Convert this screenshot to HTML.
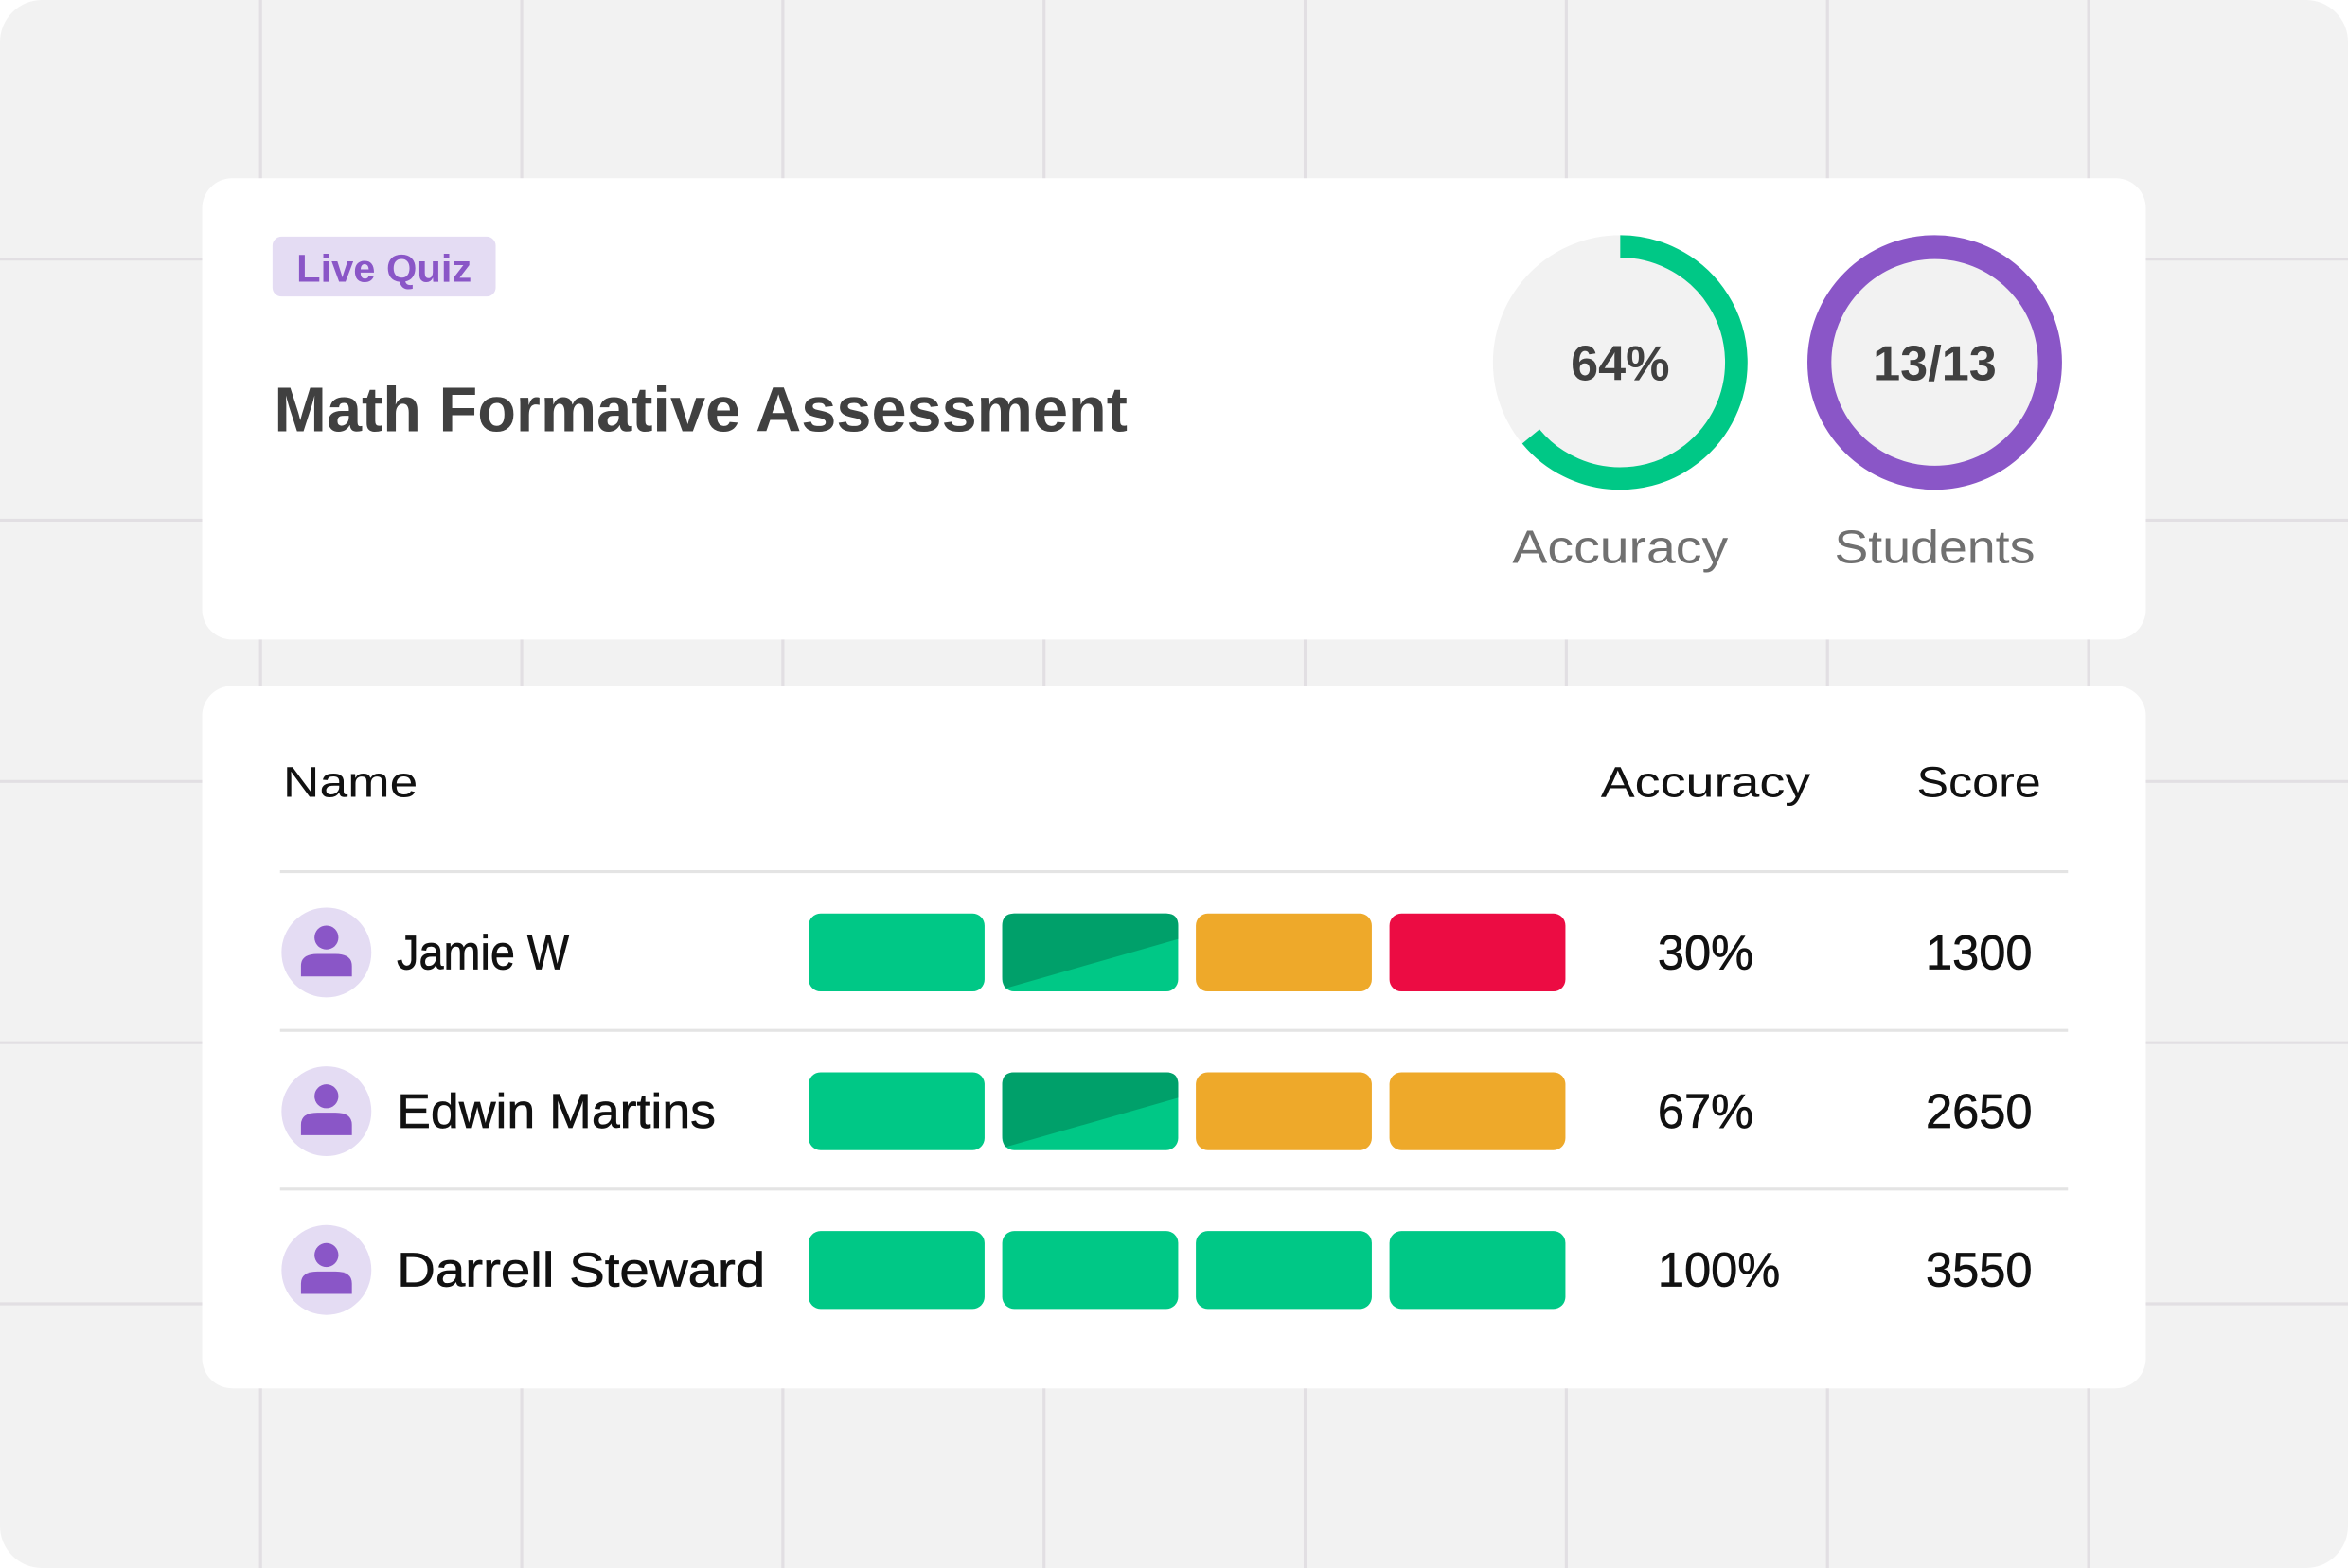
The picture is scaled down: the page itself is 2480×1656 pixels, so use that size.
<!DOCTYPE html>
<html><head><meta charset="utf-8"><style>
html,body{margin:0;padding:0;background:#fff;}
svg{display:block;font-family:"Liberation Sans",sans-serif;}
</style></head><body>
<svg id="chart" width="2480" height="1656" viewBox="0 0 1568 1047" xmlns="http://www.w3.org/2000/svg">
<rect x="0" y="0" width="1568" height="1047" rx="28" fill="#f2f2f2"/>
<g id="grid" stroke="#e2dfe3" stroke-width="2"></g>
<rect x="135" y="119" width="1298" height="308" rx="20" fill="#fff"/>
<rect x="182" y="158" width="149" height="40" rx="6" fill="#e4dcf3"/>
<text x="256.5" y="188" text-anchor="middle" font-size="26" font-weight="bold" fill="#8a56c7" textLength="117" lengthAdjust="spacingAndGlyphs">Live Quiz</text>
<text x="183" y="288" font-size="42" font-weight="bold" fill="#404040" textLength="570" lengthAdjust="spacingAndGlyphs">Math Formative Assessment</text>
<g>
<circle cx="1082" cy="242" r="85" fill="#f2f2f2"/>
<path id="accArc" fill="none" stroke="#00c886" stroke-width="15" stroke-linecap="butt"/>
<text x="1082" y="254" text-anchor="middle" font-size="33" font-weight="bold" fill="#404040">64%</text>
</g>
<text x="1082" y="376" text-anchor="middle" font-size="31" fill="#707070" textLength="144" lengthAdjust="spacingAndGlyphs">Accuracy</text>
<g>
<circle cx="1292" cy="242" r="85" fill="#f2f2f2"/>
<circle cx="1292" cy="242" r="77" fill="none" stroke="#8a56c7" stroke-width="16"/>
<text x="1292" y="254" text-anchor="middle" font-size="33" font-weight="bold" fill="#404040">13/13</text>
</g>
<text x="1292" y="376" text-anchor="middle" font-size="31" fill="#707070" textLength="134" lengthAdjust="spacingAndGlyphs">Students</text>
<rect x="135" y="458" width="1298" height="469" rx="20" fill="#fff"/>
<text x="189" y="532" font-size="29" fill="#111" textLength="90" lengthAdjust="spacingAndGlyphs">Name</text>
<text x="1069" y="532" font-size="29" fill="#111" textLength="140" lengthAdjust="spacingAndGlyphs">Accuracy</text>
<text x="1280" y="532" font-size="29" fill="#111" textLength="83" lengthAdjust="spacingAndGlyphs">Score</text>
<g id="rows"></g>
</svg>
<script>
const names = ["Jamie W", "Edwin Martins", "Darrell Steward"];
const accuracies = ["30%", "67%", "100%"];
const scores = ["1300", "2650", "3550"];
const answers = [
  ["correct", "partial", "late", "wrong"],
  ["correct", "partial", "late", "late"],
  ["correct", "correct", "correct", "correct"]
];
const accuracyPct = 64;

const NS = "http://www.w3.org/2000/svg";
function mk(tag, attrs, parent){const e=document.createElementNS(NS,tag);for(const k in attrs)e.setAttribute(k,attrs[k]);parent.appendChild(e);return e;}
const grid=document.getElementById('grid');
for(let i=0;i<9;i++){const x=174+i*174.4;const l=mk('line',{x1:x,y1:0,x2:x,y2:1047},grid);}
for(let i=0;i<5;i++){const y=173+i*174.4;const l=mk('line',{x1:0,y1:y,x2:1568,y2:y},grid);}
(function(){const cx=1082,cy=242,r=77.5;const a=accuracyPct/100*2*Math.PI;
const x=cx+r*Math.sin(a),y=cy-r*Math.cos(a);const large=a>Math.PI?1:0;
const p=document.getElementById('accArc');p.setAttribute('d',`M ${cx} ${cy-r} A ${r} ${r} 0 ${large} 1 ${x} ${y}`);
})();
const colors={correct:"#00c886",partial:"#00c886",late:"#eea92a",wrong:"#ec0c43"};
const rows=document.getElementById('rows');
const rowY0=636,rowH=106;
const barX0=540,barW=117.5,barGap=11.8,barH=52;
const nameCharW=16.4;
for(let i=0;i<names.length;i++){
  const cy=rowY0+i*rowH;
  const g=mk('g',{},rows);
  
  
  const d=mk('line',{x1:187,y1:cy-54,x2:1381,y2:cy-54,stroke:'#e4e4e4','stroke-width':2},g);
  
  
  const av=mk('g',{},g);
  
  
  mk('circle',{cx:218,cy:cy,r:30,fill:'#e4dcf3'},av);
  mk('circle',{cx:218,cy:cy-10,r:8,fill:'#8a56c7'},av);
  mk('path',{d:`M ${201} ${cy+16} L ${201} ${cy+9} Q ${201} ${cy+1} ${212} ${cy+1} L ${224} ${cy+1} Q ${235} ${cy+1} ${235} ${cy+9} L ${235} ${cy+16} Z`,fill:'#8a56c7'},av);
  const nt=mk('text',{x:265,y:cy+11,'font-size':32,fill:'#111','stroke':'#111','stroke-width':0.4,textLength:(names[i].length*nameCharW).toFixed(0),lengthAdjust:'spacingAndGlyphs'},g);nt.textContent=names[i];
  
  
  answers[i].forEach((s,j)=>{
    const x=barX0+j*(barW+barGap),y=cy-26;
    const b=mk('rect',{x:x,y:y,width:barW,height:barH,rx:8,fill:colors[s]},g);
    
    
    if(s==='partial'){
      const t=mk('path',{d:`M ${x+8} ${y} L ${x+barW-8} ${y} Q ${x+barW} ${y} ${x+barW} ${y+8} L ${x+barW} ${y+17} L ${x+2} ${y+50} Q ${x} ${y+46} ${x} ${y+42} L ${x} ${y+8} Q ${x} ${y} ${x+8} ${y} Z`,fill:'#00a06a'},g);
      
      
    }
  });
  const at=mk('text',{x:1107,y:cy+11,'font-size':32,fill:'#111','stroke':'#111','stroke-width':0.4},g);at.textContent=accuracies[i];
  
  
  const st=mk('text',{x:1286,y:cy+11,'font-size':32,fill:'#111','stroke':'#111','stroke-width':0.4},g);st.textContent=scores[i];
  
  
}
</script>
</body></html>
